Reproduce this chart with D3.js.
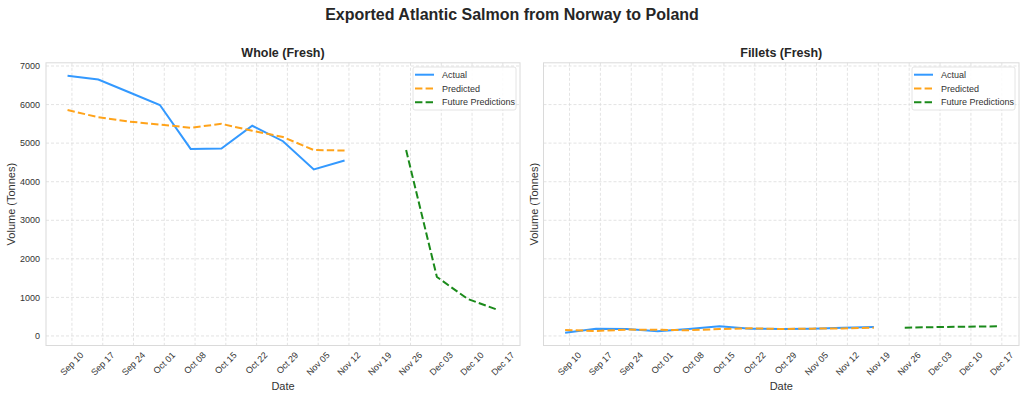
<!DOCTYPE html>
<html>
<head>
<meta charset="utf-8">
<script src="https://cdn.jsdelivr.net/npm/d3@7"></script>
<style>
  body { margin: 0; background: #fff; }
  svg { font-family: "Liberation Sans", Arial, sans-serif; }
  .grid line { stroke: #dcdcdc; stroke-width: 0.8; stroke-dasharray: 3,2; }
  .tick-label { font-size: 9px; fill: #333; }
</style>
</head>
<body>
<div id="chart"></div>
<script>
// weekly data (Mondays)
const dates = ["2024-09-09", "2024-09-16", "2024-09-23", "2024-09-30", "2024-10-07", "2024-10-14",
  "2024-10-21", "2024-10-28", "2024-11-04", "2024-11-11", "2024-11-18"];
const futureDates = ["2024-11-25", "2024-12-02", "2024-12-09", "2024-12-16"];

const wholeActual = [6750, 6650, 6320, 5990, 4850, 4860, 5450, 5050, 4320, 4550, null];
const wholePredicted = [5860, 5670, 5560, 5480, 5400, 5500, 5320, 5160, 4820, 4810, null];
const wholeFuture = [4820, 1530, 960, 670];

const filletsActual = [86, 190, 180, 120, 180, 250, 190, 180, 190, 215, 233];
const filletsPredicted = [155, 130, 165, 160, 148, 180, 200, 180, 190, 195, 215];
const filletsFuture = [215, 230, 240, 250];

const xTicks = ["2024-09-10", "2024-09-17", "2024-09-24", "2024-10-01", "2024-10-08", "2024-10-15",
  "2024-10-22", "2024-10-29", "2024-11-05", "2024-11-12", "2024-11-19", "2024-11-26",
  "2024-12-03", "2024-12-10", "2024-12-17"];
const yTicks = [0, 1000, 2000, 3000, 4000, 5000, 6000, 7000];

const colors = { actual: "#3399ff", predicted: "#ffa31a", future: "#1a8a1a" };

const W = 1024, H = 398;
const plotTop = 62.8, plotBottom = 345.5;
const panels = [
  { title: "Whole (Fresh)", left: 46, right: 520, actual: wholeActual, predicted: wholePredicted, future: wholeFuture, yLabels: true },
  { title: "Fillets (Fresh)", left: 543.5, right: 1019, actual: filletsActual, predicted: filletsPredicted, future: filletsFuture, yLabels: false }
];

const parse = d3.utcParse("%Y-%m-%d");
const firstDate = parse(dates[0]);
const lastDate = parse(futureDates[futureDates.length - 1]);
const pad = (lastDate - firstDate) * 0.05;

// shared y domain, matplotlib-like 5% margins
const allValues = [].concat(wholeActual, wholePredicted, wholeFuture, filletsActual, filletsPredicted, filletsFuture)
  .filter(v => v != null);
const yMin = d3.min(allValues), yMax = d3.max(allValues);
const yPad = (yMax - yMin) * 0.05;
const y = d3.scaleLinear().domain([yMin - yPad, yMax + yPad]).range([plotBottom, plotTop]);

const svg = d3.select("#chart").append("svg")
  .attr("width", W)
  .attr("height", H);

svg.append("text")
  .attr("x", 512)
  .attr("y", 20)
  .attr("text-anchor", "middle")
  .attr("font-size", "16px")
  .attr("font-weight", "bold")
  .attr("fill", "#262626")
  .text("Exported Atlantic Salmon from Norway to Poland");

panels.forEach(p => {
  const x = d3.scaleUtc()
    .domain([new Date(+firstDate - pad), new Date(+lastDate + pad)])
    .range([p.left, p.right]);

  const g = svg.append("g");

  // grid
  const grid = g.append("g").attr("class", "grid");
  grid.selectAll(".gx").data(xTicks).enter().append("line")
    .attr("x1", d => x(parse(d))).attr("x2", d => x(parse(d)))
    .attr("y1", plotTop).attr("y2", plotBottom);
  grid.selectAll(".gy").data(yTicks).enter().append("line")
    .attr("x1", p.left).attr("x2", p.right)
    .attr("y1", d => y(d)).attr("y2", d => y(d));

  // frame
  g.append("rect")
    .attr("x", p.left).attr("y", plotTop)
    .attr("width", p.right - p.left).attr("height", plotBottom - plotTop)
    .attr("fill", "none").attr("stroke", "#dadada").attr("stroke-width", 1);

  // lines
  const line = d3.line()
    .defined(d => d.value != null)
    .x(d => x(d.date))
    .y(d => y(d.value));

  const actualData = dates.map((d, i) => ({ date: parse(d), value: p.actual[i] }));
  const predData = dates.map((d, i) => ({ date: parse(d), value: p.predicted[i] }));
  const futData = futureDates.map((d, i) => ({ date: parse(d), value: p.future[i] }));

  g.append("path").attr("d", line(actualData))
    .attr("fill", "none").attr("stroke", colors.actual).attr("stroke-width", 2);
  g.append("path").attr("d", line(predData))
    .attr("fill", "none").attr("stroke", colors.predicted).attr("stroke-width", 2)
    .attr("stroke-dasharray", "7.4,3.2");
  g.append("path").attr("d", line(futData))
    .attr("fill", "none").attr("stroke", colors.future).attr("stroke-width", 2)
    .attr("stroke-dasharray", "7.4,3.2");

  // x tick labels, rotated 45, centered on tick
  xTicks.forEach(t => {
    const label = d3.utcFormat("%b %d")(parse(t));
    const txt = g.append("text")
      .attr("class", "tick-label")
      .attr("text-anchor", "middle")
      .attr("dominant-baseline", "central")
      .text(label);
    const w = txt.node().getComputedTextLength();
    const half = (w + 9) * 0.3536;
    txt.attr("transform", "translate(" + x(parse(t)) + "," + (plotBottom + 5 + half) + ") rotate(-45)");
  });

  // y tick labels
  if (p.yLabels) {
    g.selectAll(".ylab").data(yTicks).enter().append("text")
      .attr("class", "tick-label")
      .attr("x", p.left - 6)
      .attr("y", d => y(d))
      .attr("dy", "0.35em")
      .attr("text-anchor", "end")
      .text(d => d);
  }

  // titles
  g.append("text")
    .attr("x", (p.left + p.right) / 2)
    .attr("y", 57)
    .attr("text-anchor", "middle")
    .attr("font-size", "12.5px")
    .attr("font-weight", "bold")
    .attr("fill", "#262626")
    .text(p.title);

  g.append("text")
    .attr("x", (p.left + p.right) / 2)
    .attr("y", 390)
    .attr("text-anchor", "middle")
    .attr("font-size", "11px")
    .attr("fill", "#333")
    .text("Date");

  g.append("text")
    .attr("transform", "translate(" + (p.yLabels ? 15 : p.left - 6) + "," + ((plotTop + plotBottom) / 2) + ") rotate(-90)")
    .attr("text-anchor", "middle")
    .attr("font-size", "11px")
    .attr("fill", "#333")
    .text("Volume (Tonnes)");

  // legend
  const legend = [
    { name: "Actual", color: colors.actual, dash: null },
    { name: "Predicted", color: colors.predicted, dash: "7.4,3.2" },
    { name: "Future Predictions", color: colors.future, dash: "7.4,3.2" }
  ];
  const lx = p.right - 107, ly = 67;
  const lg = g.append("g").attr("transform", "translate(" + lx + "," + ly + ")");
  lg.append("rect")
    .attr("width", 103).attr("height", 43).attr("rx", 2)
    .attr("fill", "#fff").attr("fill-opacity", 0.85)
    .attr("stroke", "#dddddd").attr("stroke-width", 0.8);
  legend.forEach((d, i) => {
    const yy = 7.7 + i * 13.8;
    lg.append("line")
      .attr("x1", 2).attr("x2", 21).attr("y1", yy).attr("y2", yy)
      .attr("stroke", d.color).attr("stroke-width", 2)
      .attr("stroke-dasharray", d.dash);
    lg.append("text")
      .attr("x", 29).attr("y", yy).attr("dy", "0.35em")
      .attr("font-size", "9px").attr("fill", "#333")
      .text(d.name);
  });
});
</script>
</body>
</html>
